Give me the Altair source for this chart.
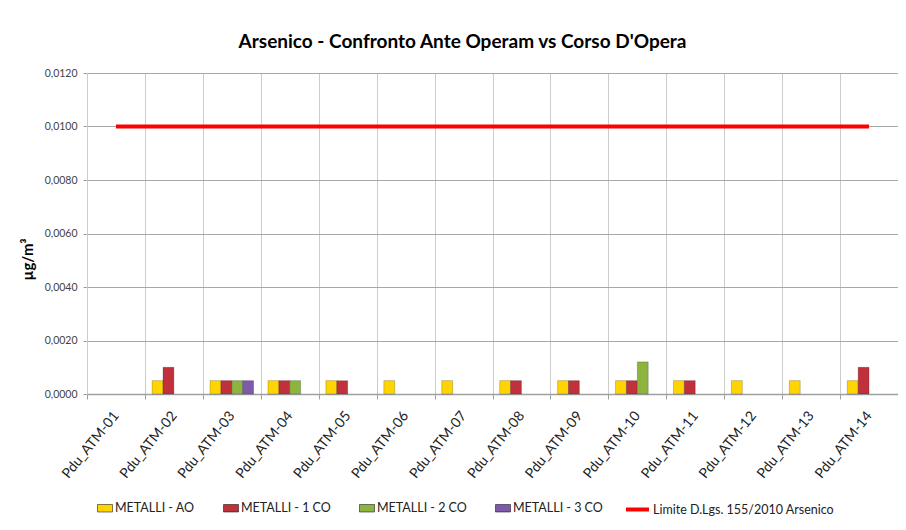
import altair as alt
import pandas as pd

stations = ["Pdu_ATM-01", "Pdu_ATM-02", "Pdu_ATM-03", "Pdu_ATM-04", "Pdu_ATM-05",
            "Pdu_ATM-06", "Pdu_ATM-07", "Pdu_ATM-08", "Pdu_ATM-09", "Pdu_ATM-10",
            "Pdu_ATM-11", "Pdu_ATM-12", "Pdu_ATM-13", "Pdu_ATM-14"]
series = ["METALLI - AO", "METALLI - 1 CO", "METALLI - 2 CO", "METALLI - 3 CO"]
colors = ["#FFD400", "#C0313B", "#8CB43F", "#7D5BAA"]

ao  = [None, 0.0005, 0.0005, 0.0005, 0.0005, 0.0005, 0.0005, 0.0005, 0.0005, 0.0005, 0.0005, 0.0005, 0.0005, 0.0005]
co1 = [None, 0.0010, 0.0005, 0.0005, 0.0005, None, None, 0.0005, 0.0005, 0.0005, 0.0005, None, None, 0.0010]
co2 = [None, None, 0.0005, 0.0005, None, None, None, None, None, 0.0012, None, None, None, None]
co3 = [None, None, 0.0005, None, None, None, None, None, None, None, None, None, None, None]

limit_name = "Limite D.Lgs. 155/2010 Arsenico"
limit = [0.01] * 14

y_ticks = [0.0, 0.002, 0.004, 0.006, 0.008, 0.010, 0.012]

FONT = "Lato, Open Sans, sans-serif"

rows = []
for s, vals in zip(series, [ao, co1, co2, co3]):
    for st, v in zip(stations, vals):
        if v is not None:
            rows.append({"station": st, "series": s, "value": v})
bar_df = pd.DataFrame(rows)
line_df = pd.DataFrame({"station": stations, "value": limit, "name": [limit_name] * 14})

x_enc = alt.X(
    "station:N",
    sort=stations,
    scale=alt.Scale(domain=stations, paddingInner=0, paddingOuter=0),
    axis=alt.Axis(
        title=None, labelAngle=-51, labelAlign="right", labelBaseline="middle",
        labelFontSize=14, labelColor="#222222", labelFont=FONT, labelPadding=14,
        tickBand="extent", grid=True, gridColor="#CCCCCC", domainColor="#A0A0A0",
        domainWidth=1.5, tickColor="#A0A0A0", tickSize=5, labelLimit=200,
    ),
)
y_enc = alt.Y(
    "value:Q",
    scale=alt.Scale(domain=[0, 0.012], nice=False),
    axis=alt.Axis(
        values=y_ticks,
        labelExpr="replace(format(datum.value, '.4f'), '.', ',')",
        labelFontSize=10.5, labelColor="#444444", labelFont=FONT, labelPadding=6,
        tickSize=4, tickColor="#A0A0A0", gridColor="#A8A8A8", domainColor="#CCCCCC",
        title="µg/m³", titleFont=FONT, titleFontSize=15, titleFontWeight="bold",
        titleColor="#000000", titleAngle=-90, titleX=-60, titleY=186,
        titleAlign="center", titleBaseline="middle",
    ),
)

bars = alt.Chart(bar_df).mark_bar(stroke="black", strokeOpacity=0.25, strokeWidth=0.8).encode(
    x=x_enc,
    xOffset=alt.XOffset("series:N", scale=alt.Scale(domain=series, paddingOuter=0.66, paddingInner=0)),
    y=y_enc,
    fill=alt.Fill(
        "series:N",
        scale=alt.Scale(domain=series, range=colors),
        legend=alt.Legend(
            title=None, orient="none", legendX=10, legendY=427, direction="horizontal",
            symbolType="M-1,-0.5H1V0.5H-1Z", symbolSize=225, symbolStrokeWidth=0.5,
            labelFont=FONT, labelFontSize=12.5, labelColor="#222222",
            columnPadding=27, labelOffset=2, padding=0, labelLimit=300,
        ),
    ),
)

line = alt.Chart(line_df).mark_line(strokeWidth=4).encode(
    x=alt.X("station:N", sort=stations),
    y=alt.Y("value:Q"),
    stroke=alt.Stroke(
        "name:N",
        scale=alt.Scale(domain=[limit_name], range=["#FF0000"]),
        legend=alt.Legend(
            title=None, orient="none", legendX=537, legendY=423, direction="horizontal",
            symbolType="stroke", symbolSize=529, symbolStrokeWidth=4,
            labelFont=FONT, labelFontSize=12.5, labelColor="#222222",
            labelOffset=2, padding=0, labelLimit=300,
        ),
    ),
)

chart = alt.layer(bars, line).properties(
    width=811,
    height=321,
    autosize=alt.AutoSizeParams(type="none"),
    padding={"left": 79, "top": 65, "right": 0, "bottom": 128},
    title=alt.Title(
        "Arsenico - Confronto Ante Operam vs Corso D'Opera",
        font=FONT, fontSize=19, fontWeight="bold", color="#000000",
        anchor="middle", dx=-30, offset=16,
    ),
).configure_view(stroke=None).configure(background="white")

chart.save("out.html", embed_options={"renderer": "svg", "actions": False})
